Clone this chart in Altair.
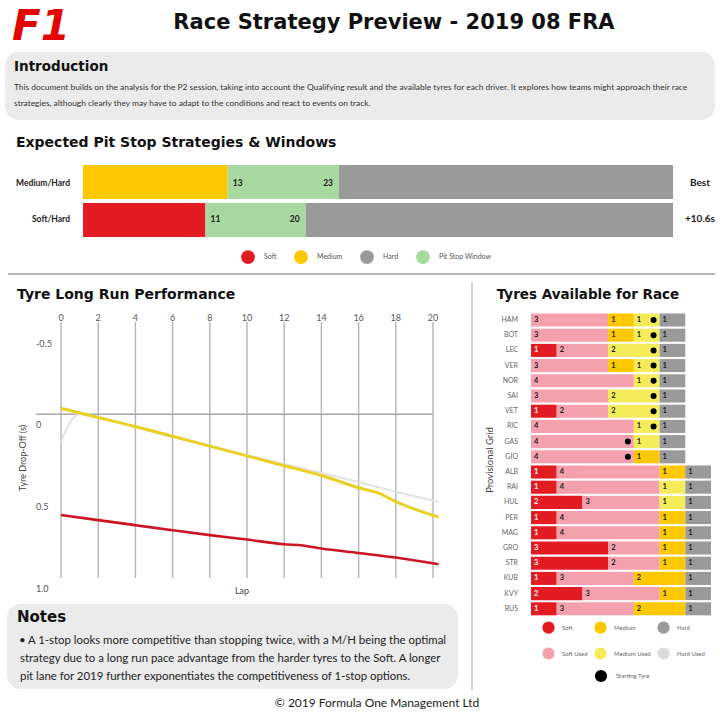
import altair as alt
import pandas as pd

# ---------------- data ----------------
strategies = ["Medium/Hard", "Soft/Hard"]
first_stint = ["Medium", "Soft"]
window_open = [13, 11]
window_close = [23, 20]
race_laps = 53
strategy_gap = ["Best", "+10.6s"]

pit_types = ["Soft", "Medium", "Hard", "Pit Stop Window"]
pit_colors = ["#e31b23", "#fcc800", "#9a9a9a", "#a8d9a0"]

lap_ticks = [0, 2, 4, 6, 8, 10, 12, 14, 16, 18, 20]
drop_ticks = [-0.5, 0, 0.5, 1.0]
drop_tick_labels = ["-0.5", "0", "0.5", "1.0"]

soft_laps = [0, 2, 4, 6, 8, 10, 12, 13, 14, 16, 18, 20.3]
soft_drop = [0.617, 0.648, 0.679, 0.71, 0.74, 0.767, 0.796, 0.803, 0.822, 0.849, 0.877, 0.918]
medium_laps = [0, 2, 4, 6, 8, 10, 12, 14, 16, 17.1, 18, 20.3]
medium_drop = [-0.037, 0.02, 0.075, 0.135, 0.195, 0.255, 0.315, 0.375, 0.45, 0.484, 0.535, 0.63]
hard_laps = [0, 0.3, 0.6, 1, 2, 4, 6, 8, 10, 12, 14, 16, 18, 20.3]
hard_drop = [0.168, 0.09, 0.03, 0.0, 0.02, 0.08, 0.14, 0.195, 0.25, 0.305, 0.36, 0.415, 0.474, 0.535]

drivers = ["HAM", "BOT", "LEC", "VER", "NOR", "SAI", "VET", "RIC", "GAS", "GIO",
           "ALB", "RAI", "HUL", "PER", "MAG", "GRO", "STR", "KUB", "KVY", "RUS"]
soft_new = [0, 0, 1, 0, 0, 0, 1, 0, 0, 0, 1, 1, 2, 1, 1, 3, 3, 1, 2, 1]
soft_used = [3, 3, 2, 3, 4, 3, 2, 4, 4, 4, 4, 4, 3, 4, 4, 2, 2, 3, 3, 3]
medium_new = [1, 1, 0, 1, 0, 0, 0, 0, 0, 1, 1, 0, 0, 1, 1, 1, 1, 2, 1, 2]
medium_used = [1, 1, 2, 1, 1, 2, 2, 1, 1, 0, 0, 1, 1, 0, 0, 0, 0, 0, 0, 0]
hard_new = [1, 1, 1, 1, 1, 1, 1, 1, 1, 1, 1, 1, 1, 1, 1, 1, 1, 1, 1, 1]
starting_tyre = ["Medium Used", "Medium Used", "Medium Used", "Medium Used", "Medium Used",
                 "Medium Used", "Medium Used", "Medium Used", "Soft Used", "Soft Used",
                 "", "", "", "", "", "", "", "", "", ""]

set_types = ["Soft", "Medium", "Hard", "Soft Used", "Medium Used", "Hard Used"]
set_colors = ["#e31b23", "#fcc800", "#9a9a9a", "#f4a1ad", "#f5ec5a", "#dcdcdc"]

intro_lines = [
    "This document builds on the analysis for the P2 session, taking into account the Qualifying result and the available tyres for each driver. It explores how teams might approach their race",
    "strategies, although clearly they may have to adapt to the conditions and react to events on track.",
]
notes_lines = [
    "A 1-stop looks more competitive than stopping twice, with a M/H being the optimal",
    "strategy due to a long run pace advantage from the harder tyres to the Soft. A longer",
    "pit lane for 2019 further exponentiates the competitiveness of 1-stop options.",
]

# ---------------- tables ----------------
pit_rows = []
for s, f, o, c in zip(strategies, first_stint, window_open, window_close):
    pit_rows.append({"strategy": s, "tyre": f, "start": 0, "end": o})
    pit_rows.append({"strategy": s, "tyre": "Pit Stop Window", "start": o, "end": c})
    pit_rows.append({"strategy": s, "tyre": "Hard", "start": c, "end": race_laps})
pit_df = pd.DataFrame(pit_rows)
win_df = pd.DataFrame({"strategy": strategies, "open": window_open, "close": window_close,
                       "gap": strategy_gap})

long_df = pd.concat([
    pd.DataFrame({"lap": hard_laps, "drop": hard_drop, "tyre": "Hard"}),
    pd.DataFrame({"lap": medium_laps, "drop": medium_drop, "tyre": "Medium"}),
    pd.DataFrame({"lap": soft_laps, "drop": soft_drop, "tyre": "Soft"}),
])
lap_df = pd.DataFrame({"lap": lap_ticks})
drop_df = pd.DataFrame({"drop": drop_ticks, "label": drop_tick_labels})

seg_rows, dot_rows = [], []
for i, d in enumerate(drivers):
    pos = 0
    for t, n in zip(["Soft", "Soft Used", "Medium", "Medium Used", "Hard"],
                    [soft_new[i], soft_used[i], medium_new[i], medium_used[i], hard_new[i]]):
        if n > 0:
            seg_rows.append({"driver": d, "set_type": t, "start": pos, "end": pos + n, "count": n})
            if starting_tyre[i] == t:
                dot_rows.append({"driver": d, "pos": pos + n, "marker": "Starting Tyre"})
            pos += n
seg_df = pd.DataFrame(seg_rows)
dot_df = pd.DataFrame(dot_rows)
drv_df = pd.DataFrame({"driver": drivers})

one = pd.DataFrame({"k": [0]})
FONT = "Lato"
HEAD = "DejaVu Sans"


def txt(s, x, y, size, weight="normal", color="#222222", align="left", angle=0,
        style="normal", font=FONT):
    return alt.Chart(one).mark_text(
        text=s, align=align, baseline="middle", fontSize=size, fontWeight=weight,
        color=color, angle=angle, font=font, fontStyle=style
    ).encode(x=alt.value(x), y=alt.value(y))


def box(x1, x2, y1, y2, fill="#ebebeb", r=14):
    return alt.Chart(one).mark_rect(fill=fill, cornerRadius=r).encode(
        x=alt.value(x1), x2=alt.value(x2), y=alt.value(y1), y2=alt.value(y2))


def rule(x1, x2, y1, y2, color="#b0b0b0", w=1.5):
    return alt.Chart(one).mark_rule(color=color, strokeWidth=w).encode(
        x=alt.value(x1), x2=alt.value(x2), y=alt.value(y1), y2=alt.value(y2))


layers = []
# backgrounds / dividers
layers += [box(5, 715, 52, 120), box(7, 458, 604, 689),
           rule(8, 715, 274, 274, "#b5b5b5", 2), rule(472, 472, 282, 690, "#c8c8c8", 1.5)]

# header
layers.append(txt("F1", 12, 27, 42, 900, "#e10600", style="italic", font=HEAD))
layers.append(txt("Race Strategy Preview - 2019 08 FRA", 394, 23, 21, "bold", "#111111", "center", font=HEAD))
layers.append(txt("Introduction", 14, 67, 13.5, "bold", "#111111", font=HEAD))
layers.append(txt(intro_lines[0], 14, 87, 8.4, "normal", "#333333"))
layers.append(txt(intro_lines[1], 14, 103, 8.4, "normal", "#333333"))

# ---------------- pit stop strategies ----------------
layers.append(txt("Expected Pit Stop Strategies & Windows", 16, 143, 14, "bold", "#111111", font=HEAD))
x_pit = alt.Scale(domain=[0, race_laps], range=[83, 673])
y_pit = alt.Scale(domain=strategies, range=[165, 237], paddingInner=0.1, paddingOuter=0)
layers.append(alt.Chart(pit_df).mark_bar().encode(
    x=alt.X("start:Q", scale=x_pit, axis=None),
    x2="end:Q",
    y=alt.Y("strategy:N", scale=y_pit, axis=None, sort=strategies),
    color=alt.Color("tyre:N", scale=alt.Scale(domain=pit_types, range=pit_colors),
                    legend=alt.Legend(orient="none", legendX=241, legendY=250, direction="horizontal",
                                      title=None, symbolType="circle", symbolSize=190,
                                      symbolStrokeWidth=0, labelFontSize=7, labelFont=FONT,
                                      labelColor="#555555", columnPadding=17, labelOffset=9)),
))
layers.append(alt.Chart(win_df).mark_text(align="left", dx=5, fontSize=8.5, fontWeight="bold",
                                          font=FONT, color="#1a1a1a").encode(
    x=alt.X("open:Q", scale=x_pit, axis=None),
    y=alt.Y("strategy:N", scale=y_pit, axis=None, sort=strategies),
    text="open:Q"))
layers.append(alt.Chart(win_df).mark_text(align="right", dx=-6, fontSize=8.5, fontWeight="bold",
                                          font=FONT, color="#1a1a1a").encode(
    x=alt.X("close:Q", scale=x_pit, axis=None),
    y=alt.Y("strategy:N", scale=y_pit, axis=None, sort=strategies),
    text="close:Q"))
layers.append(alt.Chart(win_df).mark_text(align="right", fontSize=8.5, fontWeight="bold",
                                          font=FONT, color="#1a1a1a").encode(
    x=alt.value(70),
    y=alt.Y("strategy:N", scale=y_pit, axis=None, sort=strategies),
    text="strategy:N"))
layers.append(alt.Chart(win_df).mark_text(align="center", fontSize=10, fontWeight="bold",
                                          font=FONT, color="#1a1a1a").encode(
    x=alt.value(700),
    y=alt.Y("strategy:N", scale=y_pit, axis=None, sort=strategies),
    text="gap:N"))

# ---------------- tyre long run performance ----------------
layers.append(txt("Tyre Long Run Performance", 17, 295, 14, "bold", "#111111", font=HEAD))
x_lr = alt.Scale(domain=[0, 20], range=[61, 433])
y_lr = alt.Scale(domain=[-0.5, 1.0], range=[332.6, 577.6])
layers.append(alt.Chart(lap_df).mark_rule(color="#b8b8b8", strokeWidth=1.5).encode(
    x=alt.X("lap:Q", scale=x_lr, axis=None), y=alt.value(322), y2=alt.value(578)))
layers.append(alt.Chart(pd.DataFrame({"drop": [0]})).mark_rule(color="#a8a8a8", strokeWidth=1.5).encode(
    y=alt.Y("drop:Q", scale=y_lr, axis=None), x=alt.value(36), x2=alt.value(433)))
layers.append(alt.Chart(lap_df).mark_text(fontSize=9, font=FONT, color="#555555").encode(
    x=alt.X("lap:Q", scale=x_lr, axis=None), y=alt.value(318), text="lap:Q"))
layers.append(alt.Chart(drop_df).mark_text(fontSize=9, font=FONT, color="#555555", align="left", dy=11).encode(
    y=alt.Y("drop:Q", scale=y_lr, axis=None), x=alt.value(36), text="label:N"))
layers.append(txt("Tyre Drop-Off (s)", 23, 458, 9, "normal", "#444444", "center", angle=270))
layers.append(txt("Lap", 242, 591, 9, "normal", "#444444", "center"))
line_style = {"Hard": ("#e2e2e2", 2), "Medium": ("#e9d024", 3), "Soft": ("#cc1424", 2.6)}
for t in ["Hard", "Medium", "Soft"]:
    c, w = line_style[t]
    layers.append(alt.Chart(long_df).transform_filter(alt.datum.tyre == t).mark_line(
        color=c, strokeWidth=w, interpolate="monotone").encode(
        x=alt.X("lap:Q", scale=x_lr, axis=None),
        y=alt.Y("drop:Q", scale=y_lr, axis=None),
        order="lap:Q"))

# ---------------- tyres available ----------------
layers.append(txt("Tyres Available for Race", 588, 295, 13.5, "bold", "#111111", "center", font=HEAD))
x_ty = alt.Scale(domain=[0, 7], range=[531, 711])
y_ty = alt.Scale(domain=drivers, range=[312.4, 616.4], paddingInner=0.14, paddingOuter=0.07)
layers.append(alt.Chart(seg_df).mark_bar().encode(
    x=alt.X("start:Q", scale=x_ty, axis=None),
    x2="end:Q",
    y=alt.Y("driver:N", scale=y_ty, axis=None, sort=drivers),
    color=alt.Color("set_type:N", scale=alt.Scale(domain=set_types, range=set_colors),
                    legend=alt.Legend(orient="none", legendX=542, legendY=621, columns=3,
                                      direction="horizontal", title=None, symbolType="circle",
                                      symbolSize=150, symbolStrokeWidth=0, labelFontSize=6,
                                      labelFont=FONT, labelColor="#666666", columnPadding=6,
                                      rowPadding=13, labelOffset=7)),
))
layers.append(alt.Chart(seg_df).mark_text(align="left", dx=3, fontSize=7.5, fontWeight="bold",
                                          font=FONT).encode(
    x=alt.X("start:Q", scale=x_ty, axis=None),
    y=alt.Y("driver:N", scale=y_ty, axis=None, sort=drivers),
    text="count:Q",
    color=alt.condition(alt.datum.set_type == "Soft", alt.value("white"), alt.value("#1a1a1a"))))
layers.append(alt.Chart(dot_df).mark_circle(size=36, opacity=1, xOffset=-6).encode(
    x=alt.X("pos:Q", scale=x_ty, axis=None),
    y=alt.Y("driver:N", scale=y_ty, axis=None, sort=drivers),
    color=alt.Color("marker:N", scale=alt.Scale(domain=["Starting Tyre"], range=["#000000"]),
                    legend=alt.Legend(orient="none", legendX=594, legendY=669, title=None,
                                      symbolType="circle", symbolSize=150, labelFontSize=6,
                                      labelFont=FONT, labelColor="#666666", labelOffset=8))))
layers.append(alt.Chart(drv_df).mark_text(align="right", fontSize=7, font=FONT, color="#666666").encode(
    x=alt.value(518),
    y=alt.Y("driver:N", scale=y_ty, axis=None, sort=drivers),
    text="driver:N"))
layers.append(txt("Provisional Grid", 490, 460, 9.5, "normal", "#444444", "center", angle=270))

# ---------------- notes / footer ----------------
layers.append(txt("Notes", 17, 617, 15, "bold", "#111111", font=HEAD))
layers.append(txt("\u2022", 19, 641, 11.4, "normal", "#222222"))
layers.append(txt(notes_lines[0], 28, 641, 11.4, "normal", "#222222"))
layers.append(txt(notes_lines[1], 20, 659, 11.4, "normal", "#222222"))
layers.append(txt(notes_lines[2], 20, 677, 11.4, "normal", "#222222"))
layers.append(txt("\u00a9 2019 Formula One Management Ltd", 377, 703, 12, "normal", "#222222", "center"))

chart = alt.layer(*layers).resolve_scale(
    x="independent", y="independent", color="independent"
).properties(
    width=720, height=713, padding=0, background="white",
    autosize=alt.AutoSizeParams(type="none")
).configure_view(strokeWidth=0)

chart.save("out.html", embed_options={"renderer": "svg", "actions": False})
